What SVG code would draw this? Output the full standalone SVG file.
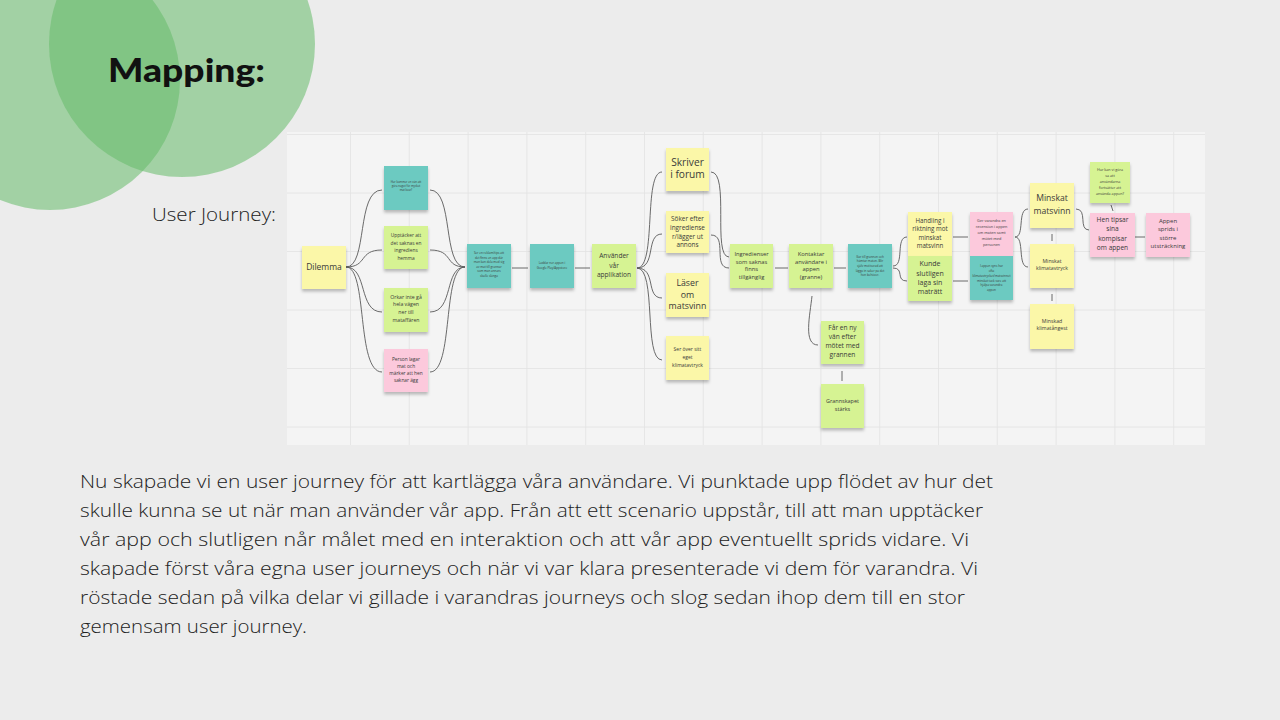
<svg xmlns="http://www.w3.org/2000/svg" width="1280" height="720" viewBox="0 0 1280 720">
<defs>
<style>
.bg{fill:#ececec}
.circ{fill:#66bb6a;opacity:0.55}
.panel{fill:#f4f4f4}
.grid line{stroke:#e2e2e2;stroke-width:0.8}
.y{fill:#fbf7a8}
.g{fill:#d6f393}
.t{fill:#6ccac1}
.p{fill:#fcc9dc}
.note rect{filter:url(#sh)}
.note text{font-family:"Open Sans","Liberation Sans",sans-serif;fill:#3a3a3a;text-anchor:middle}
.conn path{fill:none;stroke:#5a5a5a;stroke-width:0.9}
.body{font-family:"Open Sans",Lato,sans-serif;font-weight:300;font-size:19px;fill:#222}
</style>
<filter id="sh" x="-20%" y="-20%" width="140%" height="150%">
<feDropShadow dx="0" dy="2.5" stdDeviation="1.5" flood-color="#000" flood-opacity="0.25"/>
</filter>
</defs>
<rect class="bg" x="0" y="0" width="1280" height="720"/>
<g id="circles">
<circle class="circ" cx="50" cy="80" r="130"/>
<circle class="circ" cx="182" cy="44" r="133"/>
</g>
<text id="title" x="108" y="82" font-family="Lato,'Liberation Sans',sans-serif" font-weight="900" font-size="33" fill="#111" textLength="157" lengthAdjust="spacingAndGlyphs">Mapping:</text>
<text id="subtitle" x="152" y="221" class="body" font-size="20.5" textLength="124" lengthAdjust="spacingAndGlyphs">User Journey:</text>

<g id="panel">
<rect class="panel" x="287" y="132" width="918" height="313"/>
<g class="grid">
<line x1="350.5" y1="132" x2="350.5" y2="445"/>
<line x1="409.3" y1="132" x2="409.3" y2="445"/>
<line x1="468.1" y1="132" x2="468.1" y2="445"/>
<line x1="526.9" y1="132" x2="526.9" y2="445"/>
<line x1="585.7" y1="132" x2="585.7" y2="445"/>
<line x1="644.5" y1="132" x2="644.5" y2="445"/>
<line x1="703.3" y1="132" x2="703.3" y2="445"/>
<line x1="762.1" y1="132" x2="762.1" y2="445"/>
<line x1="820.9" y1="132" x2="820.9" y2="445"/>
<line x1="879.7" y1="132" x2="879.7" y2="445"/>
<line x1="938.5" y1="132" x2="938.5" y2="445"/>
<line x1="997.3" y1="132" x2="997.3" y2="445"/>
<line x1="1056.1" y1="132" x2="1056.1" y2="445"/>
<line x1="1114.9" y1="132" x2="1114.9" y2="445"/>
<line x1="1173.7" y1="132" x2="1173.7" y2="445"/>
<line x1="287" y1="134.5" x2="1205" y2="134.5"/>
<line x1="287" y1="193" x2="1205" y2="193"/>
<line x1="287" y1="251.5" x2="1205" y2="251.5"/>
<line x1="287" y1="310" x2="1205" y2="310"/>
<line x1="287" y1="368.5" x2="1205" y2="368.5"/>
<line x1="287" y1="427" x2="1205" y2="427"/>
</g>
</g>

<g id="connectors" class="conn">
<path d="M346,267 C368,267 356,190 382,190"/>
<path d="M346,267 C368,267 358,250 382,250"/>
<path d="M346,267 C368,267 358,312 382,312"/>
<path d="M346,267 C368,267 356,372 382,372"/>
<path d="M430,190 C454,190 442,267 465,267"/>
<path d="M430,250 C454,250 444,267 465,267"/>
<path d="M430,312 C454,312 444,267 465,267"/>
<path d="M430,372 C454,372 442,267 465,267"/>
<path d="M512,268 H528"/>
<path d="M575,268 H590"/>
<path d="M637,268 C657,268 643,172 662,172"/>
<path d="M637,268 C657,268 645,234 662,234"/>
<path d="M637,268 C657,268 645,298 662,298"/>
<path d="M637,268 C657,268 643,360 662,360"/>
<path d="M711,172 C730,172 712,257 729,257"/>
<path d="M711,235 C728,235 712,268 729,268"/>
<path d="M775,268 H788"/>
<path d="M834,268 H846"/>
<path d="M812,296 C810,315 803,345 818,345"/>
<path d="M842,371 V381"/>
<path d="M893,266 C905,266 895,237 907,237"/>
<path d="M893,268 C905,268 895,281 907,281"/>
<path d="M953,237 H968"/>
<path d="M953,281 H968"/>
<path d="M1015,237 C1025,237 1017,209 1028,209"/>
<path d="M1015,237 C1025,237 1017,267 1028,267"/>
<path d="M1052,234 V241"/>
<path d="M1052,294 V301"/>
<path d="M1076,209 C1088,209 1078,230 1089,230"/>
<path d="M1135,237 H1145"/>
<path d="M1111,205 L1113,211"/>
</g>

<g id="n-dilemma" class="note"><rect class="y" x="302" y="246" width="44" height="43"/>
<text font-size="8.5"><tspan x="324" y="269.5">Dilemma</tspan></text></g>

<g id="n-hur-kommer" class="note"><rect class="t" x="384" y="166" width="44" height="44"/>
<text font-size="2.8"><tspan x="406" y="183.3">Hur kommer en vän att</tspan><tspan x="406" y="186.9">göra något för mycket</tspan><tspan x="406" y="190.5">mat kvar?</tspan></text></g>

<g id="n-upptacker" class="note"><rect class="g" x="384" y="226" width="44" height="43"/>
<text font-size="4.8"><tspan x="406" y="236.8">Upptäcker att</tspan><tspan x="406" y="244.5">det saknas en</tspan><tspan x="406" y="252.2">ingrediens</tspan><tspan x="406" y="259.9">hemma</tspan></text></g>

<g id="n-orkar" class="note"><rect class="g" x="384" y="288" width="44" height="44"/>
<text font-size="5.2"><tspan x="406" y="298.6">Orkar inte gå</tspan><tspan x="406" y="306.4">hela vägen</tspan><tspan x="406" y="314.2">ner till</tspan><tspan x="406" y="322">mataffären</tspan></text></g>

<g id="n-person" class="note"><rect class="p" x="384" y="349" width="44" height="43"/>
<text font-size="4.8"><tspan x="406" y="361">Person lagar</tspan><tspan x="406" y="367.9">mat och</tspan><tspan x="406" y="374.8">märker att hen</tspan><tspan x="406" y="381.7">saknar ägg</tspan></text></g>

<g id="n-reklam" class="note"><rect class="t" x="467" y="244" width="44" height="44"/>
<text font-size="3"><tspan x="489" y="254.4">Ser en reklam/tips att</tspan><tspan x="489" y="258.9">det finns en app där</tspan><tspan x="489" y="263.4">man kan dela med sig</tspan><tspan x="489" y="267.9">av mat till grannar</tspan><tspan x="489" y="272.4">som man annars</tspan><tspan x="489" y="276.9">skulle slänga</tspan></text></g>

<g id="n-laddar" class="note"><rect class="t" x="530" y="244" width="44" height="44"/>
<text font-size="3"><tspan x="552" y="264.4">Laddar ner appen i</tspan><tspan x="552" y="269.2">Google Play/Appstore</tspan></text></g>

<g id="n-anvander" class="note"><rect class="g" x="592" y="244" width="44" height="44"/>
<text font-size="6.6"><tspan x="614" y="258.3">Använder</tspan><tspan x="614" y="267.8">vår</tspan><tspan x="614" y="277.3">applikation</tspan></text></g>

<g id="n-skriver" class="note"><rect class="y" x="666" y="148" width="43" height="43"/>
<text font-size="10.2"><tspan x="687.5" y="166.3">Skriver</tspan><tspan x="687.5" y="178">i forum</tspan></text></g>

<g id="n-soker" class="note"><rect class="y" x="666" y="211" width="43" height="42"/>
<text font-size="6.4"><tspan x="687.5" y="221.3">Söker efter</tspan><tspan x="687.5" y="230">ingrediense</tspan><tspan x="687.5" y="238.7">r/lägger ut</tspan><tspan x="687.5" y="247.4">annons</tspan></text></g>

<g id="n-laser" class="note"><rect class="y" x="666" y="273" width="43" height="44"/>
<text font-size="8.8"><tspan x="687.5" y="286.4">Läser</tspan><tspan x="687.5" y="297.6">om</tspan><tspan x="687.5" y="308.8">matsvinn</tspan></text></g>

<g id="n-ser-over" class="note"><rect class="y" x="666" y="336" width="43" height="44"/>
<text font-size="5"><tspan x="687.5" y="351">Ser över sitt</tspan><tspan x="687.5" y="358.8">eget</tspan><tspan x="687.5" y="366.6">klimatavtryck</tspan></text></g>

<g id="n-ingredienser" class="note"><rect class="g" x="730" y="244" width="43" height="44"/>
<text font-size="5.8"><tspan x="751.5" y="256">Ingredienser</tspan><tspan x="751.5" y="263.6">som saknas</tspan><tspan x="751.5" y="271.2">finns</tspan><tspan x="751.5" y="278.8">tillgänglig</tspan></text></g>

<g id="n-kontaktar" class="note"><rect class="g" x="789" y="244" width="44" height="44"/>
<text font-size="5.8"><tspan x="811" y="256">Kontaktar</tspan><tspan x="811" y="263.6">användare i</tspan><tspan x="811" y="271.2">appen</tspan><tspan x="811" y="278.8">(granne)</tspan></text></g>

<g id="n-gar-till" class="note"><rect class="t" x="848" y="244" width="44" height="44"/>
<text font-size="3"><tspan x="870" y="257.8">Går till grannen och</tspan><tspan x="870" y="262.4">hämtar maten. Blir</tspan><tspan x="870" y="267">själv motiverad att</tspan><tspan x="870" y="271.6">lägga in saker på det</tspan><tspan x="870" y="276.2">hon behöver.</tspan></text></g>

<g id="n-far-en-ny" class="note"><rect class="g" x="821" y="321" width="43" height="43"/>
<text font-size="6.6"><tspan x="842.5" y="330">Får en ny</tspan><tspan x="842.5" y="339">vän efter</tspan><tspan x="842.5" y="348">mötet med</tspan><tspan x="842.5" y="357">grannen</tspan></text></g>

<g id="n-grannskapet" class="note"><rect class="g" x="821" y="384" width="43" height="44"/>
<text font-size="5.5"><tspan x="842.5" y="403">Grannskapet</tspan><tspan x="842.5" y="411">stärks</tspan></text></g>

<g id="n-handling" class="note"><rect class="y" x="908" y="212" width="44" height="44"/>
<text font-size="6.2"><tspan x="930" y="222.9">Handling i</tspan><tspan x="930" y="231.2">riktning mot</tspan><tspan x="930" y="239.5">minskat</tspan><tspan x="930" y="247.8">matsvinn</tspan></text></g>

<g id="n-kunde" class="note"><rect class="g" x="908" y="256" width="44" height="45"/>
<text font-size="7"><tspan x="930" y="266.4">Kunde</tspan><tspan x="930" y="275.6">slutligen</tspan><tspan x="930" y="284.8">laga sin</tspan><tspan x="930" y="294">maträtt</tspan></text></g>

<g id="n-ger-varandra" class="note"><rect class="p" x="970" y="212" width="43" height="44"/>
<text font-size="3.8"><tspan x="991.5" y="222.3">Ger varandra en</tspan><tspan x="991.5" y="228.3">recension i appen</tspan><tspan x="991.5" y="234.3">om maten samt</tspan><tspan x="991.5" y="240.3">mötet med</tspan><tspan x="991.5" y="246.3">personen</tspan></text></g>

<g id="n-i-appen" class="note"><rect class="t" x="970" y="256" width="43" height="44"/>
<text font-size="3"><tspan x="991.5" y="267.4">I appen syns hur</tspan><tspan x="991.5" y="272.1">ofta</tspan><tspan x="991.5" y="276.8">klimatavtrycket/matsvinnet</tspan><tspan x="991.5" y="281.5">minskat tack vare att</tspan><tspan x="991.5" y="286.2">hjälpa varandra</tspan><tspan x="991.5" y="290.9">appen</tspan></text></g>

<g id="n-minskat-matsvinn" class="note"><rect class="y" x="1030" y="183" width="44" height="45"/>
<text font-size="8.6"><tspan x="1052" y="201.3">Minskat</tspan><tspan x="1052" y="213.6">matsvinn</tspan></text></g>

<g id="n-minskat-klimat" class="note"><rect class="y" x="1030" y="244" width="44" height="44"/>
<text font-size="5.2"><tspan x="1052" y="262.8">Minskat</tspan><tspan x="1052" y="270.1">klimatavtryck</tspan></text></g>

<g id="n-minskad-angest" class="note"><rect class="y" x="1030" y="304" width="44" height="45"/>
<text font-size="5.2"><tspan x="1052" y="322.8">Minskad</tspan><tspan x="1052" y="330.1">klimatångest</tspan></text></g>

<g id="n-hur-kan-vi" class="note"><rect class="g" x="1090" y="162" width="40" height="41"/>
<text font-size="3.7"><tspan x="1110" y="171.3">Hur kan vi göra</tspan><tspan x="1110" y="177.1">så att</tspan><tspan x="1110" y="182.9">användarna</tspan><tspan x="1110" y="188.7">fortsätter att</tspan><tspan x="1110" y="194.5">använda appen?</tspan></text></g>

<g id="n-hen-tipsar" class="note"><rect class="p" x="1090" y="213" width="45" height="44"/>
<text font-size="6.6"><tspan x="1112.5" y="222.3">Hen tipsar</tspan><tspan x="1112.5" y="231.4">sina</tspan><tspan x="1112.5" y="240.5">kompisar</tspan><tspan x="1112.5" y="249.6">om appen</tspan></text></g>

<g id="n-appen-sprids" class="note"><rect class="p" x="1146" y="213" width="44" height="44"/>
<text font-size="6"><tspan x="1168" y="223.1">Appen</tspan><tspan x="1168" y="231.4">sprids i</tspan><tspan x="1168" y="239.7">större</tspan><tspan x="1168" y="248">utsträckning</tspan></text></g>

<g id="body-text" class="body">
<text x="80" y="488" textLength="913" lengthAdjust="spacingAndGlyphs">Nu skapade vi en user journey för att kartlägga våra användare. Vi punktade upp flödet av hur det</text>
<text x="80" y="517" textLength="903" lengthAdjust="spacingAndGlyphs">skulle kunna se ut när man använder vår app. Från att ett scenario uppstår, till att man upptäcker</text>
<text x="80" y="546" textLength="889" lengthAdjust="spacingAndGlyphs">vår app och slutligen når målet med en interaktion och att vår app eventuellt sprids vidare. Vi</text>
<text x="80" y="575" textLength="898" lengthAdjust="spacingAndGlyphs">skapade först våra egna user journeys och när vi var klara presenterade vi dem för varandra. Vi</text>
<text x="80" y="604" textLength="885" lengthAdjust="spacingAndGlyphs">röstade sedan på vilka delar vi gillade i varandras journeys och slog sedan ihop dem till en stor</text>
<text x="80" y="633" textLength="227" lengthAdjust="spacingAndGlyphs">gemensam user journey.</text>
</g>
</svg>
